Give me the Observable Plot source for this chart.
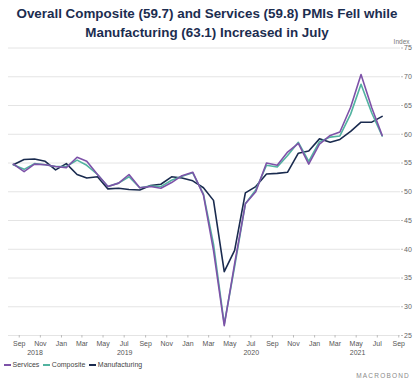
<!DOCTYPE html>
<html>
<head>
<meta charset="utf-8">
<script src="https://cdn.jsdelivr.net/npm/d3@7"></script>
<script src="https://cdn.jsdelivr.net/npm/@observablehq/plot@0.6"></script>
<style>
  html, body { margin: 0; padding: 0; background: #fff; }
  #wrap { position: relative; width: 414px; height: 384px; overflow: hidden; font-family: "Liberation Sans", Arial, sans-serif; }
  #title { position: absolute; top: 4px; left: 0; width: 414px; text-align: center; font-weight: bold; font-size: 13.4px; line-height: 19px; color: #1c2d50; }
  #plot { position: absolute; top: 30px; left: 0; }
  #legend { position: absolute; top: 361px; left: 4px; font-size: 7px; color: #444; display: flex; align-items: center; }
  #legend .sw { display: inline-block; width: 7px; height: 2px; margin-right: 1.5px; }
  #legend .it { display: flex; align-items: center; margin-right: 4px; }
  #brand { position: absolute; top: 372px; right: 4px; font-size: 6.5px; letter-spacing: 1.2px; color: #8a8a8a; }
</style>
</head>
<body>
<div id="wrap">
  <div id="title">Overall Composite (59.7) and Services (59.8) PMIs Fell while<br>Manufacturing (63.1) Increased in July</div>
  <div id="plot"></div>
  <div id="legend"></div>
  <div id="brand">MACROBOND</div>
</div>
<script>
const months = ["2018-08","2018-09","2018-10","2018-11","2018-12",
  "2019-01","2019-02","2019-03","2019-04","2019-05","2019-06","2019-07","2019-08","2019-09","2019-10","2019-11","2019-12",
  "2020-01","2020-02","2020-03","2020-04","2020-05","2020-06","2020-07","2020-08","2020-09","2020-10","2020-11","2020-12",
  "2021-01","2021-02","2021-03","2021-04","2021-05","2021-06","2021-07"];
const services = [54.8,53.5,54.8,54.7,54.4,
  54.2,56.0,55.3,53.0,50.9,51.5,53.0,50.7,50.9,50.6,51.6,52.8,
  53.4,49.4,39.8,26.7,37.5,47.9,50.0,55.0,54.6,56.9,58.4,54.8,
  58.3,59.8,60.4,64.7,70.4,64.6,59.8];
const composite = [54.7,53.9,54.9,54.7,54.4,
  54.4,55.5,54.6,53.0,50.9,51.5,52.6,50.7,51.0,50.9,52.0,52.7,
  53.3,49.6,40.9,27.0,37.0,47.9,50.3,54.6,54.3,56.3,58.6,55.3,
  58.7,59.5,59.7,63.5,68.7,63.7,59.7];
const manufacturing = [54.7,55.6,55.7,55.3,53.8,
  54.9,53.0,52.4,52.6,50.5,50.6,50.4,50.3,51.1,51.3,52.6,52.4,
  51.9,50.7,48.5,36.1,39.8,49.8,50.9,53.1,53.2,53.4,56.7,57.1,
  59.2,58.6,59.1,60.5,62.1,62.1,63.1];
const seriesNames = ["Services","Composite","Manufacturing"];
const seriesColors = ["#7d52a8","#52b3a0","#1a2b4f"];
const yTicks = [25,30,35,40,45,50,55,60,65,70,75];
const xTickMonths = ["2018-09","2018-11","2019-01","2019-03","2019-05","2019-07","2019-09","2019-11",
  "2020-01","2020-03","2020-05","2020-07","2020-09","2020-11","2021-01","2021-03","2021-05","2021-07","2021-09"];
const years = [2018, 2019, 2020, 2021];

const parseM = s => new Date(s + "-15T00:00:00Z");
const parseStart = s => new Date(s + "-01T00:00:00Z");
const xDomain = [new Date("2018-08-01T00:00:00Z"), new Date("2021-09-06T00:00:00Z")];

const rows = [];
const vals = [services, composite, manufacturing];
seriesNames.forEach((name, i) => {
  months.forEach((m, j) => rows.push({series: name, date: parseM(m), value: vals[i][j]}));
});

const yearRows = years.map(y => {
  const a = Math.max(+new Date(Date.UTC(y,0,1)), +xDomain[0]);
  const b = Math.min(+new Date(Date.UTC(y+1,0,1)), +xDomain[1]);
  return {year: String(y), date: new Date((a+b)/2)};
});

const drawOrder = ["Manufacturing","Composite","Services"];

const chart = Plot.plot({
  width: 414,
  height: 332,
  marginLeft: 8,
  marginRight: 14,
  marginTop: 17.5,
  marginBottom: 27,
  style: {fontFamily: "Liberation Sans, Arial, sans-serif", fontSize: "7px", color: "#555", background: "transparent"},
  x: {type: "utc", domain: xDomain},
  y: {domain: [25, 75]},
  color: {domain: seriesNames, range: seriesColors},
  marks: [
    Plot.gridY(yTicks, {stroke: "#e4e4e4", strokeOpacity: 1, strokeWidth: 1}),
    Plot.axisY(yTicks, {anchor: "right", tickSize: 2, tickPadding: 1.5, fontSize: 7, label: null, stroke: "#bbb", fill: "#666"}),
    Plot.axisX(xTickMonths.map(parseStart), {tickSize: 2.5, tickPadding: 3.5, fontSize: 7, label: null, tickFormat: d3.utcFormat("%b"), stroke: "#bbb", fill: "#555"}),
    Plot.text(yearRows, {x: "date", frameAnchor: "bottom", dy: 19, text: "year", fontSize: 7, fill: "#555"}),
    Plot.text(["Index"], {frameAnchor: "top-right", dx: 9, dy: -9, text: d => d, fontSize: 6.5, fill: "#777"}),
    ...drawOrder.map(name => Plot.lineY(rows.filter(r => r.series === name), {
      x: "date", y: "value", stroke: seriesColors[seriesNames.indexOf(name)], strokeWidth: 1.6, curve: "linear"
    }))
  ]
});
document.getElementById("plot").appendChild(chart);

const legend = document.getElementById("legend");
seriesNames.forEach((n, i) => {
  const it = document.createElement("span");
  it.className = "it";
  it.innerHTML = `<span class="sw" style="background:${seriesColors[i]}"></span>${n}`;
  legend.appendChild(it);
});
</script>
</body>
</html>
